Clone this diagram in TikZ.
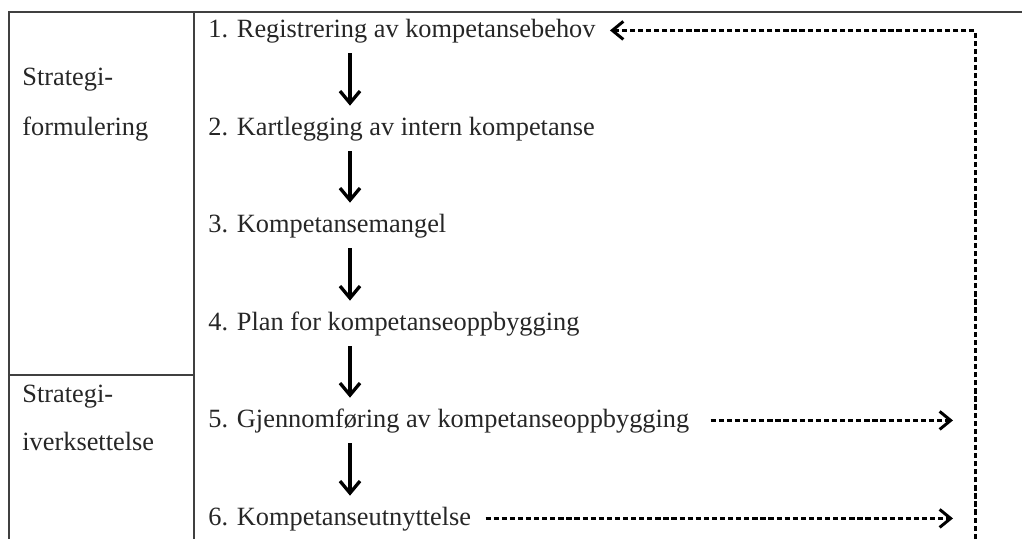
\documentclass[tikz,border=0pt]{standalone}
\usepackage{fontspec}
\setmainfont{Liberation Serif}
\usetikzlibrary{arrows.meta,positioning}

\begin{document}
\begin{tikzpicture}[x=0.02cm,y=-0.02cm,
  font=\fontsize{15}{18}\selectfont,
  steptxt/.style={anchor=base west,inner xsep=8pt,inner ysep=5.5pt,text height=11pt,text depth=3.5pt,text=black!85},
  phase/.style={anchor=base west,inner sep=0pt,text=black!85},
  frame/.style={draw=black!75,line width=0.9pt},
  arr/.style={-{Straight Barb[length=2.4mm,width=4mm]},line width=1.9pt},
  darr/.style={-{Straight Barb[length=2.2mm,width=3.6mm]},line width=1.7pt,dash pattern=on 3pt off 1.6pt}]
\useasboundingbox (0,0) rectangle (1022,539);
% table frame
\draw[frame] (1022,12) -- (9,12) -- (9,539);
\draw[frame] (194,12) -- (194,539);
\draw[frame] (9,375) -- (194,375);
% phases
\node[phase] (f1) at (22,85) {Strategi-};
\node[phase] (f2) at (22,135) {formulering};
\node[phase] (i1) at (22,402) {Strategi-};
\node[phase] (i2) at (22,450) {iverksettelse};
% steps
\node[steptxt] (s1) at (194,37) {1. Registrering av kompetansebehov};
\node[steptxt] (s2) at (194,135) {2. Kartlegging av intern kompetanse};
\node[steptxt] (s3) at (194,232) {3. Kompetansemangel};
\node[steptxt] (s4) at (194,330) {4. Plan for kompetanseoppbygging};
\node[steptxt] (s5) at (194,427) {5. Gjennomføring av kompetanseoppbygging};
\node[steptxt] (s6) at (194,525) {6. Kompetanseutnyttelse};
\coordinate (ax) at (350,0);
\coordinate (tg) at (953,0);
\coordinate (fb) at (975,539);
\draw[arr] (s1.south -| ax) -- (s2.north -| ax);
\draw[arr] (s2.south -| ax) -- (s3.north -| ax);
\draw[arr] (s3.south -| ax) -- (s4.north -| ax);
\draw[arr] (s4.south -| ax) -- (s5.north -| ax);
\draw[arr] (s5.south -| ax) -- (s6.north -| ax);
% feedback
\draw[darr] ([xshift=4pt]s5.east) -- (s5.east -| tg);
\draw[darr] (s6.east) -- (s6.east -| tg);
\draw[darr] (fb) -- (fb |- s1.east) -- (s1.east);
\end{tikzpicture}
\end{document}
